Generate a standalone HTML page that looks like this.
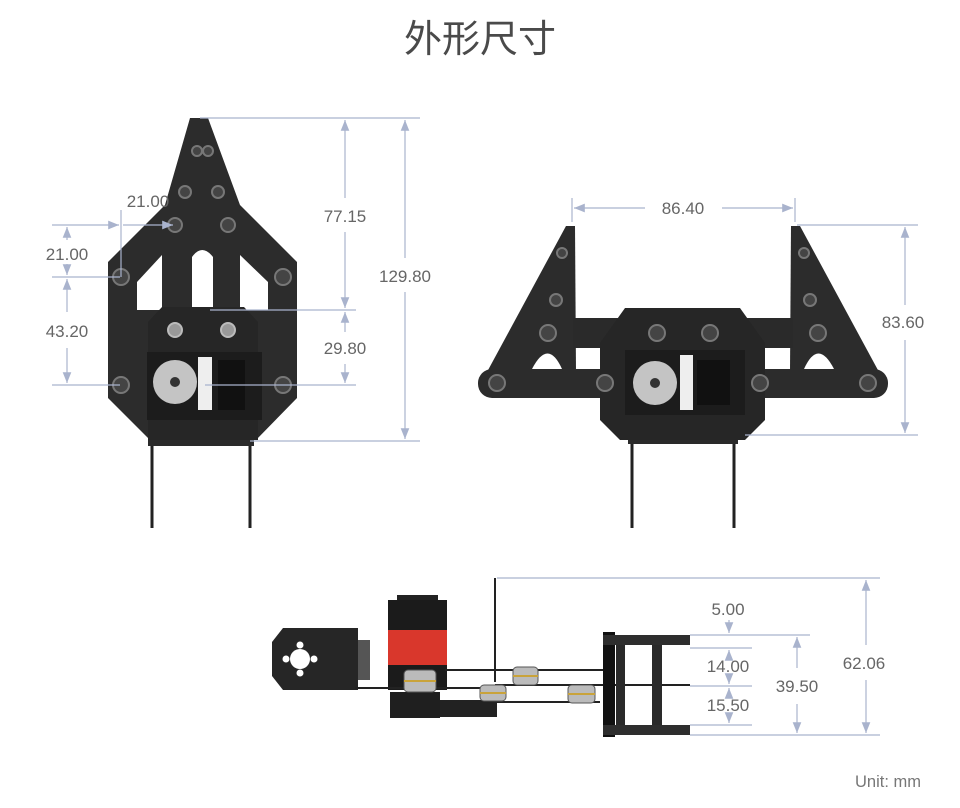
<!DOCTYPE html>
<html><head><meta charset="utf-8"><style>
html,body{margin:0;padding:0;background:#fff;width:960px;height:808px;overflow:hidden}
svg{display:block}
text{font-family:"Liberation Sans","Noto Sans CJK SC",sans-serif;fill:#666}
</style></head><body>
<svg width="960" height="808" viewBox="0 0 960 808" xmlns="http://www.w3.org/2000/svg">
<defs>
<marker id="a" viewBox="0 0 10 10" refX="10" refY="5" markerWidth="9" markerHeight="9" orient="auto-start-reverse"><path d="M0,1 L10,5 L0,9 z" fill="#a9b3cd"/></marker>
</defs>
<text x="480" y="52" font-size="38" text-anchor="middle" style="font-family:'Noto Sans CJK SC',sans-serif;fill:#4a4a4a">外形尺寸</text>

<!-- LEFT VIEW -->
<g>
<line x1="152" y1="440" x2="152" y2="528" stroke="#222" stroke-width="3"/>
<line x1="250" y1="440" x2="250" y2="528" stroke="#222" stroke-width="3"/>
<rect x="148" y="438" width="106" height="8" fill="#2a2a2a"/>
<polygon points="190,118 208,118 240,205 297,262 297,398 256,440 150,440 108,398 108,262 165,205" fill="#2c2c2c"/>
<polygon points="137,282 162,255 162,310 137,310" fill="#fff"/>
<polygon points="268,282 240,255 240,310 268,310" fill="#fff"/>
<path d="M192,307 L192,257 Q202,243 213,257 L213,307 Z" fill="#fff"/>
<polygon points="162,307 244,307 258,322 258,440 148,440 148,322" fill="#262626"/>
<rect x="147" y="352" width="115" height="68" fill="#1c1c1c"/>
<circle cx="175" cy="382" r="22" fill="#c4c4c4"/>
<circle cx="175" cy="382" r="5" fill="#333"/>
<rect x="198" y="357" width="14" height="53" fill="#eee"/>
<rect x="218" y="360" width="27" height="50" fill="#111"/>
<g fill="#444" stroke="#777" stroke-width="2">
<circle cx="121" cy="277" r="8"/><circle cx="283" cy="277" r="8"/>
<circle cx="121" cy="385" r="8"/><circle cx="283" cy="385" r="8"/>
<circle cx="175" cy="225" r="7"/><circle cx="228" cy="225" r="7"/>
<circle cx="185" cy="192" r="6"/><circle cx="218" cy="192" r="6"/>
<circle cx="197" cy="151" r="5"/><circle cx="208" cy="151" r="5"/>
</g>
<circle cx="175" cy="330" r="7" fill="#999" stroke="#bbb" stroke-width="2"/>
<circle cx="228" cy="330" r="7" fill="#999" stroke="#bbb" stroke-width="2"/>
</g>

<!-- left dims -->
<g stroke="#a9b3cd" stroke-width="1.2" fill="none">
<line x1="200" y1="118" x2="420" y2="118"/>
<line x1="250" y1="441" x2="420" y2="441"/>
<line x1="405" y1="120" x2="405" y2="258" marker-start="url(#a)"/>
<line x1="405" y1="292" x2="405" y2="439" marker-end="url(#a)"/>
<line x1="345" y1="120" x2="345" y2="198" marker-start="url(#a)"/>
<line x1="345" y1="232" x2="345" y2="308" marker-end="url(#a)"/>
<line x1="210" y1="310" x2="356" y2="310"/>
<line x1="345" y1="312" x2="345" y2="332" marker-start="url(#a)"/>
<line x1="345" y1="364" x2="345" y2="383" marker-end="url(#a)"/>
<line x1="205" y1="385" x2="356" y2="385"/>
<line x1="52" y1="225" x2="119" y2="225" marker-end="url(#a)"/>
<line x1="123" y1="225" x2="173" y2="225" marker-end="url(#a)"/>
<line x1="121" y1="210" x2="121" y2="277"/>
<line x1="52" y1="277" x2="120" y2="277"/>
<line x1="52" y1="385" x2="120" y2="385"/>
<line x1="67" y1="227" x2="67" y2="240" marker-start="url(#a)"/>
<line x1="67" y1="264" x2="67" y2="275" marker-end="url(#a)"/>
<line x1="67" y1="279" x2="67" y2="312" marker-start="url(#a)"/>
<line x1="67" y1="348" x2="67" y2="383" marker-end="url(#a)"/>
</g>
<g font-size="17" text-anchor="middle">
<text x="405" y="282">129.80</text>
<text x="345" y="222">77.15</text>
<text x="345" y="354">29.80</text>
<text x="148" y="207">21.00</text>
<text x="67" y="260">21.00</text>
<text x="67" y="337">43.20</text>
</g>

<!-- RIGHT VIEW -->
<g>
<line x1="632" y1="440" x2="632" y2="528" stroke="#222" stroke-width="3"/>
<line x1="734" y1="440" x2="734" y2="528" stroke="#222" stroke-width="3"/>
<rect x="628" y="436" width="110" height="8" fill="#2a2a2a"/>
<polygon points="566,226 575,226 576,372 487,372" fill="#2c2c2c"/>
<polygon points="800,226 791,226 790,372 879,372" fill="#2c2c2c"/>
<rect x="573" y="318" width="220" height="30" fill="#2a2a2a"/>
<rect x="478" y="369" width="410" height="29" rx="14" fill="#2c2c2c"/>
<path d="M532,369 Q548,338 562,369 Z" fill="#fff"/>
<path d="M834,369 Q818,338 804,369 Z" fill="#fff"/>
<polygon points="625,308 740,308 765,343 765,420 745,440 620,440 600,420 600,343" fill="#262626"/>
<rect x="625" y="350" width="120" height="65" fill="#1c1c1c"/>
<circle cx="655" cy="383" r="22" fill="#c4c4c4"/>
<circle cx="655" cy="383" r="5" fill="#333"/>
<rect x="680" y="355" width="13" height="55" fill="#eee"/>
<rect x="697" y="360" width="33" height="45" fill="#111"/>
<g fill="#444" stroke="#777" stroke-width="2">
<circle cx="548" cy="333" r="8"/><circle cx="818" cy="333" r="8"/>
<circle cx="497" cy="383" r="8"/><circle cx="868" cy="383" r="8"/>
<circle cx="605" cy="383" r="8"/><circle cx="760" cy="383" r="8"/>
<circle cx="657" cy="333" r="8"/><circle cx="710" cy="333" r="8"/>
<circle cx="556" cy="300" r="6"/><circle cx="810" cy="300" r="6"/>
<circle cx="562" cy="253" r="5"/><circle cx="804" cy="253" r="5"/>
</g>
</g>
<g stroke="#a9b3cd" stroke-width="1.2" fill="none">
<line x1="572" y1="198" x2="572" y2="222"/>
<line x1="795" y1="198" x2="795" y2="222"/>
<line x1="574" y1="208" x2="645" y2="208" marker-start="url(#a)"/>
<line x1="722" y1="208" x2="793" y2="208" marker-end="url(#a)"/>
<line x1="797" y1="225" x2="918" y2="225"/>
<line x1="745" y1="435" x2="918" y2="435"/>
<line x1="905" y1="227" x2="905" y2="305" marker-start="url(#a)"/>
<line x1="905" y1="340" x2="905" y2="433" marker-end="url(#a)"/>
</g>
<g font-size="17" text-anchor="middle">
<text x="683" y="214">86.40</text>
<text x="903" y="328">83.60</text>
</g>

<!-- BOTTOM VIEW -->
<g>
<polygon points="283,628 358,628 358,690 283,690 272,676 272,642" fill="#262626"/>
<circle cx="300" cy="659" r="10" fill="#fff"/>
<circle cx="300" cy="645" r="3.5" fill="#fff"/><circle cx="300" cy="673" r="3.5" fill="#fff"/>
<circle cx="286" cy="659" r="3.5" fill="#fff"/><circle cx="314" cy="659" r="3.5" fill="#fff"/>
<rect x="358" y="640" width="12" height="40" fill="#555"/>
<rect x="397" y="595" width="41" height="6" fill="#222"/>
<rect x="388" y="600" width="59" height="30" fill="#1b1b1b"/>
<rect x="388" y="630" width="59" height="35" fill="#d9372c"/>
<rect x="388" y="665" width="59" height="25" fill="#1b1b1b"/>
<line x1="495" y1="578" x2="495" y2="682" stroke="#222" stroke-width="2"/>
<line x1="355" y1="688" x2="495" y2="688" stroke="#222" stroke-width="2"/>
<line x1="445" y1="670" x2="610" y2="670" stroke="#222" stroke-width="2"/>
<line x1="495" y1="685" x2="690" y2="685" stroke="#222" stroke-width="2"/>
<line x1="470" y1="702" x2="600" y2="702" stroke="#222" stroke-width="2"/>
<rect x="390" y="692" width="50" height="26" fill="#1f1f1f"/>
<rect x="440" y="700" width="57" height="17" fill="#222"/>
<g fill="#bbb" stroke="#555" stroke-width="1">
<rect x="404" y="670" width="32" height="22" rx="4"/>
<rect x="480" y="685" width="26" height="16" rx="4"/>
<rect x="513" y="667" width="25" height="18" rx="4"/>
<rect x="568" y="685" width="27" height="18" rx="4"/>
</g>
<g stroke="#c9a33a" stroke-width="2">
<line x1="404" y1="681" x2="436" y2="681"/>
<line x1="480" y1="693" x2="506" y2="693"/>
<line x1="513" y1="676" x2="538" y2="676"/>
<line x1="568" y1="694" x2="595" y2="694"/>
</g>
<rect x="603" y="632" width="12" height="105" fill="#111"/>
<rect x="603" y="635" width="87" height="10" fill="#2e2e2e"/>
<rect x="603" y="725" width="87" height="10" fill="#2e2e2e"/>
<rect x="616" y="645" width="9" height="80" fill="#2a2a2a"/>
<rect x="652" y="645" width="10" height="80" fill="#2a2a2a"/>
</g>
<g stroke="#a9b3cd" stroke-width="1.2" fill="none">
<line x1="497" y1="578" x2="880" y2="578"/>
<line x1="690" y1="635" x2="810" y2="635"/>
<line x1="690" y1="648" x2="752" y2="648"/>
<line x1="690" y1="686" x2="752" y2="686"/>
<line x1="690" y1="725" x2="752" y2="725"/>
<line x1="690" y1="735" x2="880" y2="735"/>
<line x1="866" y1="580" x2="866" y2="645" marker-start="url(#a)"/>
<line x1="866" y1="680" x2="866" y2="733" marker-end="url(#a)"/>
<line x1="797" y1="637" x2="797" y2="668" marker-start="url(#a)"/>
<line x1="797" y1="704" x2="797" y2="733" marker-end="url(#a)"/>
<line x1="729" y1="620" x2="729" y2="633" marker-end="url(#a)"/>
<line x1="729" y1="650" x2="729" y2="656" marker-start="url(#a)"/>
<line x1="729" y1="678" x2="729" y2="684" marker-end="url(#a)"/>
<line x1="729" y1="688" x2="729" y2="694" marker-start="url(#a)"/>
<line x1="729" y1="716" x2="729" y2="723" marker-end="url(#a)"/>
</g>
<g font-size="17" text-anchor="middle">
<text x="728" y="615">5.00</text>
<text x="728" y="672">14.00</text>
<text x="728" y="711">15.50</text>
<text x="797" y="692">39.50</text>
<text x="864" y="669">62.06</text>
</g>
<text x="888" y="787" font-size="16.5" text-anchor="middle" style="fill:#777">Unit: mm</text>
</svg>
</body></html>
